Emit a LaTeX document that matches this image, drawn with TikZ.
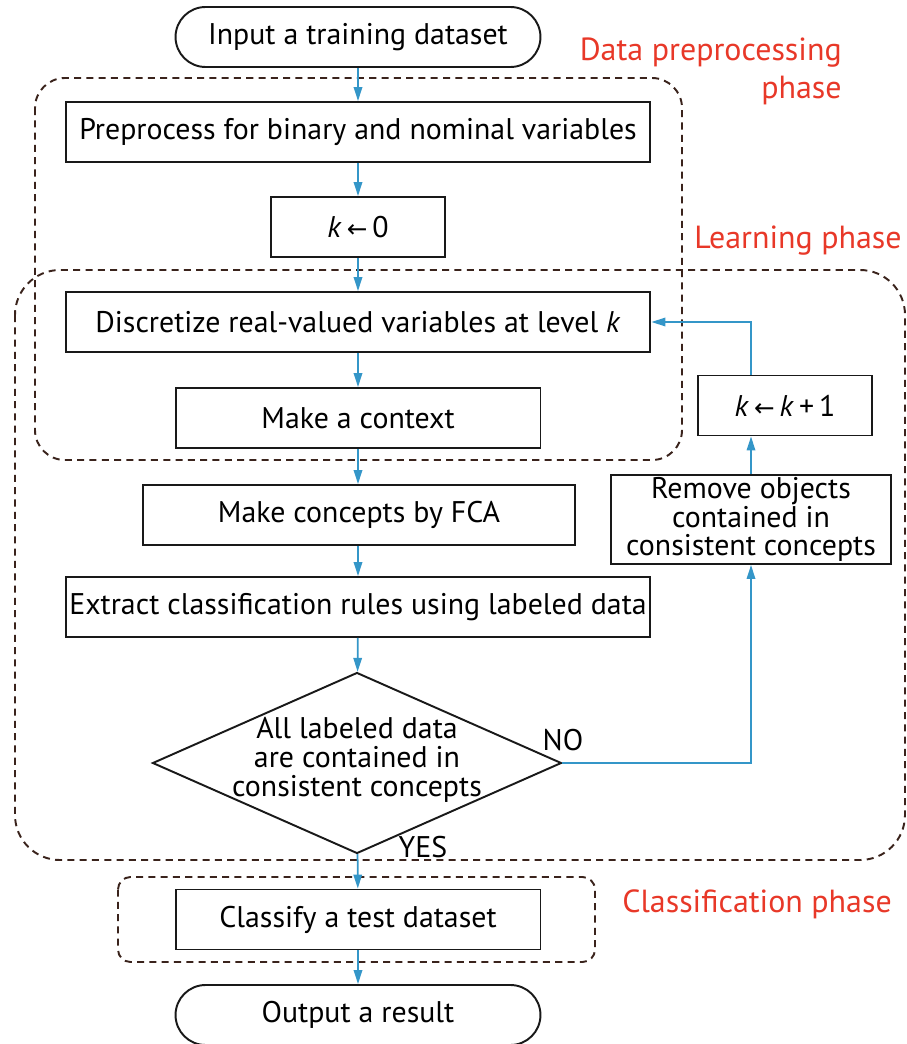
\documentclass[tikz,border=0pt]{standalone}
\usepackage{fontspec}
\setmainfont{PT Sans}
\newfontfamily\arrowfont{DejaVu Sans}
\usetikzlibrary{arrows.meta,shapes.geometric}
\definecolor{arrowblue}{RGB}{52,150,200}
\definecolor{phasered}{RGB}{232,56,40}
\definecolor{dashbrown}{RGB}{58,35,28}
\newcommand{\kvar}{\textit{k}}
\newcommand{\getsarrow}{\,{\arrowfont\fontsize{14}{14}\selectfont ←}\,}
\begin{document}
\begin{tikzpicture}[x=0.02cm,y=-0.02cm,
  box/.style={draw=black!90, line width=1.1pt, rectangle, minimum height=1.2cm, inner sep=0pt, font=\fontsize{17}{16}\selectfont, align=center},
  term/.style={box, rounded corners=0.6cm},
  phasebox/.style={draw=dashbrown, line width=1.1pt, dash pattern=on 4pt off 3pt},
  phaselabel/.style={text=phasered, font=\fontsize{18.2}{21.5}\selectfont, inner sep=0pt},
  flow/.style={draw=arrowblue, line width=1pt, -{Triangle[length=0.28cm,width=0.17cm]}},
  lbl/.style={font=\fontsize{17}{16.5}\selectfont, inner sep=0pt}]
\useasboundingbox (0,0) rectangle (906,1044);
% phase boxes
\draw[phasebox, rounded corners=0.6cm] (35,78) rectangle (682,460);
\draw[phasebox, rounded corners=0.9cm] (15,270) rectangle (905,860);
\draw[phasebox, rounded corners=0.25cm] (118,877) rectangle (595,962);
% phase labels
\node[phaselabel, align=right, anchor=east] (lab1) at (842,71) {Data preprocessing\\phase};
\node[phaselabel, anchor=east] (lab2) at (902,241) {Learning phase};
\node[phaselabel, anchor=west] (lab3) at (622,904) {Classification phase};
% nodes
\node[term, minimum width=7.3cm] (in) at (358,37) {Input a training dataset};
\node[box, minimum width=11.7cm] (prep) at (358,132) {Preprocess for binary and nominal variables};
\node[box, minimum width=3.48cm] (k0) at (358,227) {\kvar\getsarrow 0};
\node[box, minimum width=11.7cm] (disc) at (358,322) {Discretize real-valued variables at level \kvar};
\node[box, minimum width=7.3cm] (ctx) at (358,418) {Make a context};
\node[box, minimum width=8.64cm] (fca) at (359,515) {Make concepts by FCA};
\node[box, minimum width=11.7cm] (ext) at (358,607) {Extract classification rules using labeled data};
\node[draw=black!90, line width=1.1pt, diamond, minimum width=8.18cm, minimum height=3.62cm, inner sep=0pt] (dec) at (357,763) {};
\node[lbl, align=center] (dectext) at (357,760) {All labeled data\\are contained in\\consistent concepts};
\node[box, minimum width=5.6cm, minimum height=1.78cm] (rem) at (751,519.5) {Remove objects\\contained in\\consistent concepts};
\node[box, minimum width=3.48cm] (kinc) at (785,405.5) {\kvar\getsarrow\kvar\,+\,1};
\node[box, minimum width=7.3cm] (cls) at (358,919.5) {Classify a test dataset};
\node[term, minimum width=7.3cm] (out) at (358,1015) {Output a result};
\node[lbl] (no) at (563,740) {NO};
\node[lbl] (yes) at (423,847) {YES};
% connectors
\draw[flow] (in) -- (prep);
\draw[flow] (prep.south -| k0.north) -- (k0);
\draw[flow] (k0.south) -- (k0.south |- disc.north);
\draw[flow] (disc) -- (ctx);
\draw[flow] (ctx) -- (ctx |- fca.north);
\draw[flow] (fca.south -| ext.north) -- (ext);
\draw[flow] (ext) -- (dec);
\draw[flow] (dec) -- (cls);
\draw[flow] (cls) -- (out);
\draw[flow] (dec.east) -| (rem.south);
\draw[flow] (rem.north) -- (rem.north |- kinc.south);
\draw[flow] (rem.north |- kinc.north) |- (disc.east);
\end{tikzpicture}
\end{document}
